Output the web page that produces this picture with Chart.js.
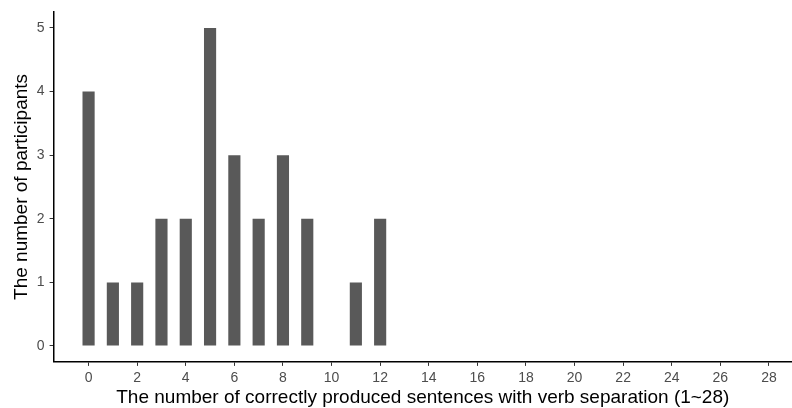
<!DOCTYPE html>
<html>
<head>
<meta charset="utf-8">
<script src="https://cdn.jsdelivr.net/npm/chart.js@4"></script>
<style>
  html, body { margin: 0; padding: 0; background: #fff; }
  #wrap { width: 792px; height: 408px; }
</style>
</head>
<body>
<div id="wrap"><canvas id="myChart" width="792" height="408"></canvas></div>
<script>
// Data
const sentenceCounts = [0, 1, 2, 3, 4, 5, 6, 7, 8, 9, 11, 12];
const participants = [4, 1, 1, 2, 2, 5, 3, 2, 3, 2, 1, 2];
const xTicks = [0, 2, 4, 6, 8, 10, 12, 14, 16, 18, 20, 22, 24, 26, 28];
const yTicks = [0, 1, 2, 3, 4, 5];

const ctx = document.querySelector("#myChart").getContext("2d");
const fontFamily = "'Liberation Sans', Arial, sans-serif";

const histChart = new Chart(ctx, {
    type: "bar",
    data: {
        datasets: [{
            data: sentenceCounts.map((x, i) => ({ x: x, y: participants[i] })),
            backgroundColor: "#595959",
            borderWidth: 0,
            categoryPercentage: 1,
            barPercentage: 0.5,
        }],
    },
    options: {
        responsive: false,
        animation: false,
        layout: { padding: { top: 2, right: 0, left: 10, bottom: 0 } },
        plugins: {
            legend: { display: false },
            tooltip: { enabled: false },
        },
        scales: {
            x: {
                type: "linear",
                offset: false,
                min: -1.44,
                max: 28.95,
                afterBuildTicks: (axis) => { axis.ticks = xTicks.map(v => ({ value: v })); },
                grid: { offset: false, drawOnChartArea: false, drawTicks: true, tickLength: 4, tickColor: "#333" },
                border: { display: true, color: "#000", width: 1.5 },
                ticks: { color: "#4d4d4d", font: { family: fontFamily, size: 14 }, padding: 4, maxRotation: 0, autoSkip: false },
                title: {
                    display: true,
                    text: "The number of correctly produced sentences with verb separation (1~28)",
                    color: "#000",
                    font: { family: fontFamily, size: 19 },
                    padding: { top: -4, bottom: -1.5 },
                },
            },
            y: {
                min: -0.25,
                max: 5.25,
                afterBuildTicks: (axis) => { axis.ticks = yTicks.map(v => ({ value: v })); },
                grid: { drawOnChartArea: false, drawTicks: true, tickLength: 4, tickColor: "#333" },
                border: { display: true, color: "#000", width: 1.5 },
                ticks: { color: "#4d4d4d", font: { family: fontFamily, size: 14, lineHeight: 1 }, padding: 5 },
                title: {
                    display: true,
                    text: "The number of participants",
                    color: "#000",
                    font: { family: fontFamily, size: 19 },
                    padding: { top: 0, bottom: -1 },
                },
            },
        },
    },
});
</script>
</body>
</html>
